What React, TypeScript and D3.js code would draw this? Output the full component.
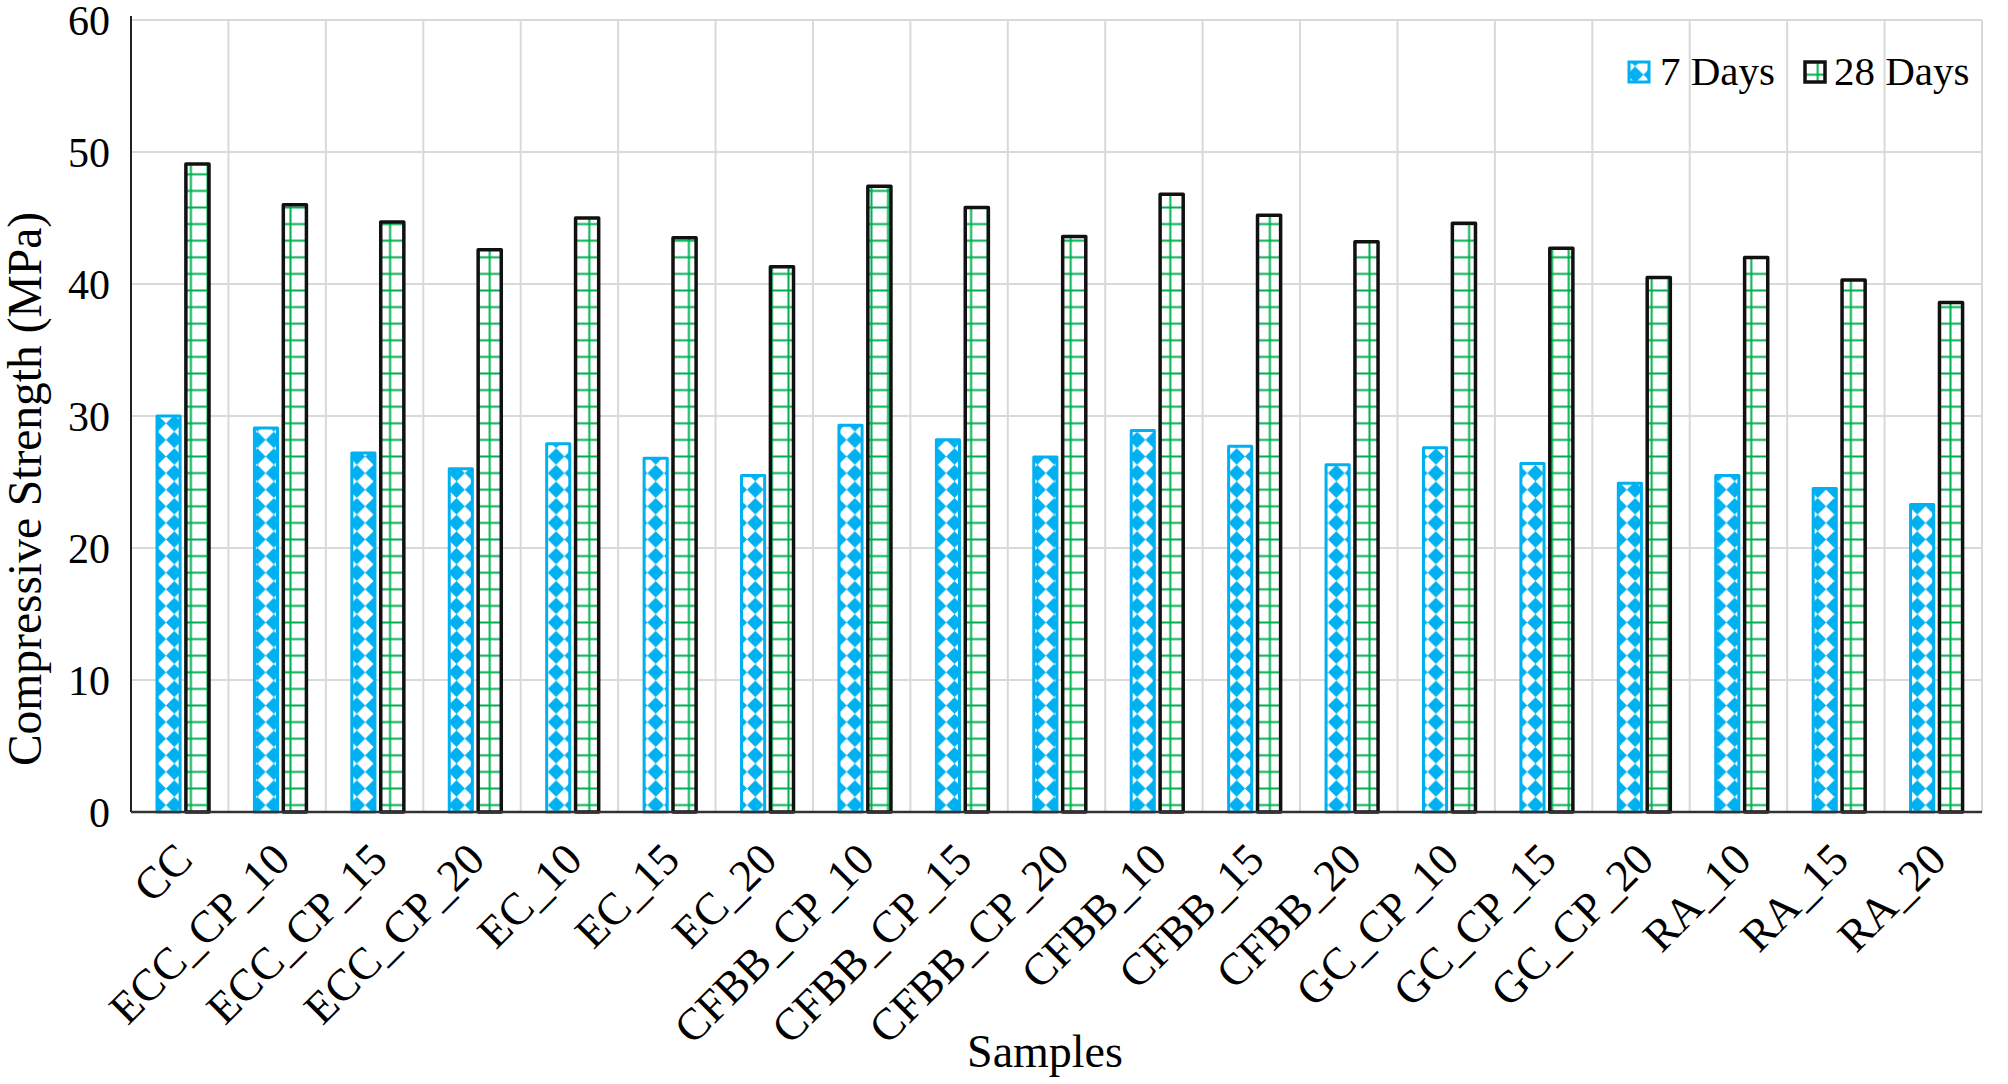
import React from 'react';
import * as d3 from 'd3';

const categories = ['CC', 'ECC_CP_10', 'ECC_CP_15', 'ECC_CP_20', 'EC_10', 'EC_15', 'EC_20', 'CFBB_CP_10', 'CFBB_CP_15', 'CFBB_CP_20', 'CFBB_10', 'CFBB_15', 'CFBB_20', 'GC_CP_10', 'GC_CP_15', 'GC_CP_20', 'RA_10', 'RA_15', 'RA_20'];
const days7 = [30.0, 29.1, 27.2, 26.0, 27.9, 26.8, 25.5, 29.3, 28.2, 26.9, 28.9, 27.7, 26.3, 27.6, 26.4, 24.9, 25.5, 24.5, 23.3];
const days28 = [49.1, 46.0, 44.7, 42.6, 45.0, 43.5, 41.3, 47.4, 45.8, 43.6, 46.8, 45.2, 43.2, 44.6, 42.7, 40.5, 42.0, 40.3, 38.6];
const seriesNames = ['7 Days', '28 Days'];
const yTicks = [0, 10, 20, 30, 40, 50, 60];

const W = 2008, H = 1084;
const M = { left: 131, right: 1982, top: 20, bottom: 812 };
const BLUE = '#00B0F0';
const GREEN = '#00B050';
const FONT = '"Liberation Serif", "Times New Roman", serif';

export default function App() {
  const x = d3.scaleBand<string>().domain(categories).range([M.left, M.right]);
  const sub = d3.scaleBand<string>().domain(seriesNames).range([26, 78]).paddingInner(0.2);
  const y = d3.scaleLinear().domain([0, 60]).range([M.bottom, M.top]);
  const bw = sub.bandwidth();
  const P = 16.6;

  return (
    <svg width={W} height={H} style={{ position: 'absolute', left: 0, top: 0, background: '#fff' }} fontFamily={FONT}>
      <defs>
        <pattern id="diam" patternUnits="userSpaceOnUse" width={P} height={P}>
          <rect width={P} height={P} fill="#fff" />
          <polygon points={`${P / 2},0 ${P},${P / 2} ${P / 2},${P} 0,${P / 2}`} fill={BLUE} />
        </pattern>
        <pattern id="grid" patternUnits="userSpaceOnUse" width={P} height={P}>
          <rect width={P} height={P} fill="#fff" />
          <line x1={0} x2={P} y1={P / 2} y2={P / 2} stroke={GREEN} strokeWidth={2} />
          <line x1={P / 2} x2={P / 2} y1={0} y2={P} stroke={GREEN} strokeWidth={2} />
        </pattern>
      </defs>
      <rect width={W} height={H} fill="#fff" />
      {yTicks.map(t => (
        <line key={'h' + t} x1={M.left} x2={M.right} y1={y(t)} y2={y(t)} stroke="#d9d9d9" strokeWidth={2} />
      ))}
      {categories.map(c => (
        <line key={'v' + c} x1={(x(c) as number) + x.bandwidth()} x2={(x(c) as number) + x.bandwidth()} y1={M.top} y2={M.bottom} stroke="#d9d9d9" strokeWidth={2} />
      ))}
      {categories.map((c, i) => {
        const x0 = x(c) as number;
        return (
          <g key={'b' + c}>
            <rect x={x0 + (sub('7 Days') as number)} y={y(days7[i])} width={bw} height={y(0) - y(days7[i])}
              fill="url(#diam)" stroke={BLUE} strokeWidth={3} strokeLinejoin="round" />
            <rect x={x0 + (sub('28 Days') as number)} y={y(days28[i])} width={bw} height={y(0) - y(days28[i])}
              fill="url(#grid)" stroke="#111" strokeWidth={3.5} strokeLinejoin="round" />
          </g>
        );
      })}
      <line x1={M.left} x2={M.left} y1={M.top - 4} y2={M.bottom} stroke="#222" strokeWidth={2} />
      <line x1={M.left} x2={M.right} y1={M.bottom} y2={M.bottom} stroke="#333" strokeWidth={2.5} />
      {yTicks.map(t => (
        <text key={'yt' + t} x={110} y={y(t)} dy="0.35em" textAnchor="end" fontSize={42} fill="#000">{t}</text>
      ))}
      {categories.map(c => {
        const cx = (x(c) as number) + x.bandwidth() / 2 + 15;
        const cy = M.bottom + 50;
        return (
          <text key={'xt' + c} transform={`translate(${cx},${cy}) rotate(-45)`} textAnchor="end" fontSize={45} fill="#000">{c}</text>
        );
      })}
      <text transform={`translate(41,489) rotate(-90)`} textAnchor="middle" fontSize={47.5} fill="#000">Compressive Strength (MPa)</text>
      <text x={1045} y={1067} textAnchor="middle" fontSize={46} fill="#000">Samples</text>
      <g>
        <rect x={1629} y={62} width={20} height={20} fill="url(#diam)" stroke={BLUE} strokeWidth={3} />
        <text x={1660} y={85} fontSize={41} fill="#000">{seriesNames[0]}</text>
        <rect x={1805} y={62} width={20} height={20} fill="url(#grid)" stroke="#111" strokeWidth={3.5} />
        <text x={1834} y={85} fontSize={41} fill="#000">{seriesNames[1]}</text>
      </g>
    </svg>
  );
}
